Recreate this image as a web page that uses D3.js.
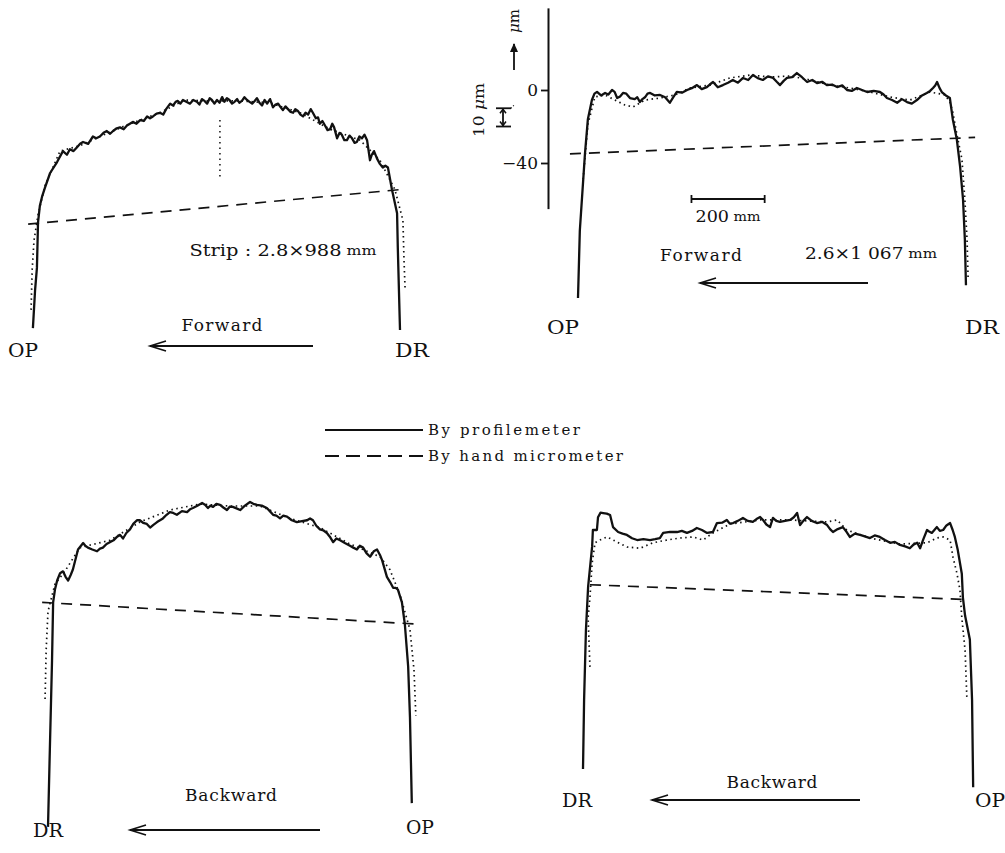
<!DOCTYPE html>
<html lang="en">
<head>
    <meta charset="UTF-8">
    <title>Strip profiles</title>
    <script src="https://d3js.org/d3.v7.min.js"></script>
    <style>
        body { margin: 0; background: #fff; }
        text { font-family: 'DejaVu Serif', 'Liberation Serif', serif; fill: #111; }
    </style>
</head>
<body>
<script>
    const width  = 1005;
    const height = 853;

    // px per mm across the strip, px per micrometre of thickness
    const KX = 0.366;
    const KY = 1.825;

    // ---- data: [position across strip (mm), thickness deviation (um)] ----
    // top left, 2.8 x 988 mm, forward
    const tlSolid = [[-3,-125],[3,-104],[8,-92],[11,-67],[16,-58],[22,-53],[30,-48],[44,-40],[63,-34],[79,-28],[90,-30],[98,-27],[108,-28],[117,-26],[126,-24],[134,-23],[148,-24],[161,-20],[170,-21],[180,-20],[190,-18],[199,-17],[208,-18.5],[216,-17],[226,-15.5],[235,-15],[245,-16],[254,-14],[262,-13],[270,-12],[280,-13],[290,-11],[300,-11.5],[309,-9],[317,-10],[325,-9],[335,-7.5],[344,-7],[353,-8],[361,-5],[372,-2],[380,-3],[387,-1],[393,-0.5],[400,-2],[407,0],[416,-1],[426,-2],[435,0],[445,-1],[452,-2.5],[459,0.5],[466,-0.5],[473,-2],[480,1],[486,0],[493,-2],[500,0],[507,-1.5],[514,1.6],[520,-1],[527,1],[534,0],[541,-2],[548,-1],[555,0.5],[561,-1.5],[568,-0.5],[575,1.5],[582,0],[589,-1],[596,-2],[603,-0.5],[609,1],[616,-1.5],[623,-3],[630,0],[637,-2],[645,0.5],[653,-4],[660,-2.5],[667,-2],[674,-4],[680,-5.5],[687,-3.5],[694,-5],[701,-6.5],[708,-7],[714,-5],[721,-6],[728,-8],[735,-9],[742,-7],[749,-8],[756,-5],[762,-7],[770,-10],[776,-9.5],[781,-13],[788,-11.5],[795,-14],[802,-16.5],[809,-16],[815,-13],[820,-15],[828,-21],[835,-18],[841,-19],[848,-22],[855,-22],[862,-19.5],[869,-21],[876,-23.5],[882,-23],[889,-20],[896,-21],[903,-19],[910,-22],[918,-33],[923,-30],[929,-28],[937,-32],[945,-35],[953,-37],[960,-36],[967,-37],[978,-49],[992,-62],[994,-81],[1000,-126]];
    const tlDotted = [[-8,-115],[-5,-93],[0,-77],[11,-63],[30,-47],[71,-28],[126,-25],[180,-20],[262,-13],[344,-7],[412,0],[478,-0.5],[563,-0.5],[645,-1.6],[727,-7],[809,-16],[891,-22],[945,-33],[986,-49],[1008,-66],[1011,-88],[1014,-104]];
    const tlCentre = [[508,-11],[508,-44]];
    const tlDashed = [[-16,-68],[1005,-49]];

    // top right, 2.6 x 1067 mm, forward
    const trSolid = [[0,-114],[5,-77],[19,-35],[27,-16],[38,-5.5],[45,-2],[52,-1],[63,-3],[74,-1.6],[83,-2.5],[93,0],[100,-1],[107,-4.4],[115,-3.5],[123,-1.6],[132,-2],[142,-4.4],[155,-5],[162,-4],[169,-6.6],[176,-5],[183,-4],[190,-2],[197,-1.6],[210,-3],[224,-2.7],[238,-4],[251,-7],[260,-4],[270,-1],[284,-1.5],[298,0],[311,1],[325,2.7],[338,0.5],[352,1.6],[360,3],[369,4.4],[382,1.5],[396,2.7],[410,4],[423,5.5],[437,4],[451,6.6],[465,5.5],[478,8.2],[491,6.5],[505,5.5],[519,7.5],[533,6.6],[543,4.5],[552,2.7],[562,5],[571,6.6],[585,7],[598,9.3],[612,7],[626,4.4],[640,5.5],[653,3.8],[667,4.5],[680,2.7],[694,3],[708,1.6],[722,2.5],[735,0],[748,-0.5],[762,1.1],[776,0],[790,-1.1],[808,-0.5],[825,-1.1],[835,-2.5],[844,-4.4],[858,-5.5],[872,-7],[885,-5],[899,-6.6],[912,-7.5],[926,-5.5],[940,-3],[953,-1.6],[962,-0.5],[970,1.1],[976,2.5],[981,4.4],[988,1],[994,-1.1],[1005,-3],[1016,-4.4],[1024,-16],[1035,-27],[1044,-42],[1052,-60],[1057,-82],[1060,-107]];
    const trDotted = [[14,-49],[27,-19],[46,-3.8],[74,-2.7],[101,-5.5],[128,-8.2],[150,-9.3],[183,-5.5],[224,-4.4],[265,-2.7],[306,1.1],[361,2.7],[415,6.6],[470,8.2],[525,7.1],[579,7.7],[634,5.5],[689,2.7],[743,1.1],[798,-1.1],[852,-3.8],[907,-5.5],[962,-1.1],[1003,-2.7],[1016,-6.6],[1024,-12],[1033,-22],[1049,-38],[1057,-60],[1063,-82],[1066,-104]];
    const trDashed = [[-22,-35],[1085,-26]];

    // bottom left, 2.8 x 988 mm, backward
    const blSolid = [[0,-178],[5,-136],[11,-87],[14,-55],[19,-48],[25,-43],[33,-39],[41,-38],[48,-41],[55,-43],[62,-40],[68,-37],[82,-26],[96,-22.5],[102,-24],[109,-25],[121,-26],[134,-27],[142,-25.5],[150,-25],[160,-23],[169,-22],[179,-21],[189,-19],[197,-18],[205,-20],[214,-17],[224,-15],[233,-12],[243,-10],[251,-10],[260,-11.5],[270,-12],[279,-14],[288,-12.5],[298,-11],[306,-10],[314,-9],[324,-7],[333,-5.5],[342,-6],[352,-7],[366,-5],[380,-5.5],[388,-4],[396,-3.3],[408,-2],[421,-0.5],[429,-1.5],[437,-3.3],[444,-2],[451,-2.7],[460,-1],[470,-1.6],[479,-3],[489,-4.4],[497,-2.5],[505,-2.7],[515,-3.5],[525,-4.4],[538,-2],[552,0],[561,-1],[571,-1.6],[584,-2],[598,-3.3],[606,-5],[615,-7],[624,-7.5],[634,-9],[643,-7.5],[653,-8],[666,-10],[680,-11],[694,-10.5],[708,-10],[716,-9],[724,-10],[733,-13],[743,-15],[752,-15.5],[762,-17],[770,-19],[779,-22],[788,-20],[798,-21],[811,-22.5],[825,-24],[834,-25],[844,-26],[852,-24],[861,-25],[870,-28],[880,-30],[890,-27],[899,-26],[907,-29],[913,-32],[926,-41],[935,-44],[943,-47],[950,-47],[956,-48],[967,-55],[975,-67],[984,-90],[989,-118],[994,-165]];
    const blDotted = [[-8,-108],[-5,-81],[0,-60],[19,-45],[46,-38],[87,-25],[169,-21],[251,-11],[333,-4.4],[415,-1.1],[497,-2.2],[579,-2.2],[661,-9],[743,-14],[825,-23],[907,-30],[934,-37],[962,-51],[989,-70],[1000,-92],[1005,-117]];
    const blDashed = [[-16,-55],[1016,-67]];

    // bottom right, 2.6 x 1067 mm, backward
    const brSolid = [[0,-131],[3,-93],[8,-55],[14,-31],[25,-9],[27,0],[38,0],[41,7],[48,9.5],[55,9.3],[65,9],[74,8.2],[82,1.6],[96,-1.1],[108,-2],[120,-2.7],[134,-4.5],[148,-5.5],[165,-5],[183,-5.5],[197,-5],[210,-4.4],[219,-1.6],[238,-1],[257,-1.1],[270,-0.5],[284,-1.6],[298,-0.5],[311,1.1],[325,0],[339,-1.6],[355,-1.1],[366,3.8],[380,4],[393,5.5],[401,3.5],[410,3.8],[423,5],[437,6.6],[450,5],[464,4.4],[474,6],[484,7.1],[492,5.5],[501,3],[511,1.6],[519,6.6],[528,5],[538,4.4],[552,5],[566,5.5],[576,7],[585,9.3],[593,2.7],[602,5],[612,7.1],[625,5],[639,3.8],[653,4.5],[667,2.7],[675,0.5],[683,-1.1],[696,0.5],[710,1.6],[720,-1],[729,-3.8],[743,-2],[757,-2.7],[770,-3.5],[784,-4.4],[797,-3],[811,-3.8],[825,-5.5],[839,-7],[852,-6.5],[866,-8.2],[880,-9],[893,-10],[903,-8],[913,-7],[921,-10],[930,-5],[940,0],[947,-1],[953,-1.6],[960,0],[967,1.6],[975,-0.5],[984,0],[993,2.5],[1003,3.8],[1010,0],[1016,-3.8],[1024,-11],[1035,-24],[1038,-37],[1044,-47],[1057,-60],[1063,-93],[1066,-141]];
    const brDotted = [[19,-75],[14,-48],[19,-37],[25,-18],[33,-7],[46,-5.5],[66,-3.8],[93,-6.6],[120,-9.3],[156,-10],[191,-7],[229,-5.5],[265,-4.4],[301,-3.8],[328,-5.5],[355,-1.6],[402,3.3],[484,5.5],[566,5.5],[667,4.4],[694,5.5],[721,0],[784,-4.4],[866,-7.7],[940,-7],[967,-4.4],[984,-3.8],[1003,-5.5],[1011,-15],[1022,-24],[1030,-33],[1035,-48],[1044,-66],[1049,-93]];
    const brDashed = [[19,-30],[1038,-38]];

    // axis of the top right panel
    const yTicks = [0, -40];
    const yTickLabels = ["0", "\u221240"];
    const scaleBarMm = 200;
    const scaleBarUm = 10;

    const legendItems = ["By profilemeter", "By hand micrometer"];

    const panels = [
        {ox: 34,  oy: 100, solid: tlSolid, dotted: tlDotted, dashed: tlDashed},
        {ox: 578, oy: 90,  solid: trSolid, dotted: trDotted, dashed: trDashed},
        {ox: 48,  oy: 502, solid: blSolid, dotted: blDotted, dashed: blDashed},
        {ox: 583, oy: 530, solid: brSolid, dotted: brDotted, dashed: brDashed}
    ];

    const svg = d3.select("body")
            .append("svg")
            .attr("width", width)
            .attr("height", height);

    panels.forEach(p => {
        p.x = d3.scaleLinear().domain([0, 1000]).range([p.ox, p.ox + 1000 * KX]);
        p.y = d3.scaleLinear().domain([0, -100]).range([p.oy, p.oy + 100 * KY]);
        const line = d3.line().x(d => p.x(d[0])).y(d => p.y(d[1]));
        p.line = line;
        const g = svg.append("g");
        g.append("path").datum(p.dotted).attr("d", line)
            .attr("fill", "none").attr("stroke", "#111")
            .attr("stroke-width", 1.7).attr("stroke-dasharray", "1.5,3.5");
        g.append("path").datum(p.dashed).attr("d", line)
            .attr("fill", "none").attr("stroke", "#111")
            .attr("stroke-width", 1.7).attr("stroke-dasharray", "11,8");
        g.append("path").datum(p.solid).attr("d", line)
            .attr("fill", "none").attr("stroke", "#111")
            .attr("stroke-width", 2.3).attr("stroke-linejoin", "round");
    });

    // dotted centre mark in the top left panel
    svg.append("path").datum(tlCentre).attr("d", panels[0].line)
        .attr("stroke", "#111").attr("stroke-width", 1.5)
        .attr("stroke-dasharray", "1.5,4");

    // y axis of the top right panel
    const tr = panels[1];
    const axisScale = d3.scaleLinear().domain([-65, 45]).range([tr.y(-65), tr.y(45)]);
    const yAxis = svg.append("g")
        .attr("transform", "translate(548,0)")
        .call(d3.axisLeft(axisScale)
            .tickValues(yTicks)
            .tickFormat((d, i) => yTickLabels[i])
            .tickSize(7)
            .tickSizeOuter(0));
    yAxis.select(".domain").attr("stroke", "#111").attr("stroke-width", 2);
    yAxis.selectAll(".tick line").attr("stroke", "#111").attr("stroke-width", 1.8);
    yAxis.selectAll(".tick text")
        .attr("font-family", "'DejaVu Serif', serif")
        .attr("font-size", 17).attr("fill", "#111");

    // 10 um bracket
    const bx = 503;
    const b1 = tr.y(-scaleBarUm), b2 = tr.y(-2 * scaleBarUm);
    svg.append("line").attr("x1", bx).attr("x2", bx).attr("y1", b1).attr("y2", b2)
        .attr("stroke", "#111").attr("stroke-width", 1.8);
    [b1, b2].forEach(y => {
        svg.append("line").attr("x1", 496).attr("x2", 511).attr("y1", y).attr("y2", y)
            .attr("stroke", "#111").attr("stroke-width", 1.8);
    });
    svg.append("path").attr("d", `M${bx-3},${b1+5}L${bx},${b1+1}L${bx+3},${b1+5}`).attr("fill", "none").attr("stroke", "#111").attr("stroke-width", 1.5);
    svg.append("path").attr("d", `M${bx-3},${b2-5}L${bx},${b2-1}L${bx+3},${b2-5}`).attr("fill", "none").attr("stroke", "#111").attr("stroke-width", 1.5);
    svg.append("line").attr("x1", 511).attr("x2", 514).attr("y1", b1).attr("y2", b1 - 3)
        .attr("stroke", "#111").attr("stroke-width", 1.2).attr("stroke-dasharray", "1,2");

    const rot1 = svg.append("text")
        .attr("transform", "translate(484,110) rotate(-90)")
        .attr("text-anchor", "middle").attr("font-size", 15)
        .attr("textLength", 54).attr("lengthAdjust", "spacingAndGlyphs");
    rot1.append("tspan").text("10 ");
    rot1.append("tspan").attr("font-style", "italic").text("\u03bc");
    rot1.append("tspan").text("m");

    // upward arrow and unit
    svg.append("line").attr("x1", 514).attr("x2", 514).attr("y1", 70).attr("y2", 44)
        .attr("stroke", "#111").attr("stroke-width", 1.8);
    svg.append("path").attr("d", "M510,52L514,43L518,52Z").attr("fill", "#111");
    const rot2 = svg.append("text")
        .attr("transform", "translate(519,21) rotate(-90)")
        .attr("text-anchor", "middle").attr("font-size", 15)
        .attr("textLength", 24).attr("lengthAdjust", "spacingAndGlyphs");
    rot2.append("tspan").attr("font-style", "italic").text("\u03bc");
    rot2.append("tspan").text("m");

    // 200 mm scale bar
    const sx1 = tr.x(310), sx2 = tr.x(310 + scaleBarMm);
    svg.append("line").attr("x1", sx1).attr("x2", sx2).attr("y1", 199).attr("y2", 199)
        .attr("stroke", "#111").attr("stroke-width", 2);
    [sx1, sx2].forEach(x => svg.append("line").attr("x1", x).attr("x2", x)
        .attr("y1", 195).attr("y2", 203).attr("stroke", "#111").attr("stroke-width", 1.8));

    // labels
    function label(txt, x, y, size, len, adj) {
        return svg.append("text").attr("x", x).attr("y", y)
            .attr("dominant-baseline", "central")
            .attr("text-anchor", "middle")
            .attr("font-size", size)
            .attr("textLength", len).attr("lengthAdjust", adj || "spacingAndGlyphs")
            .text(txt);
    }
    function strip(txt, x, y, len) {
        const t = svg.append("text").attr("x", x).attr("y", y)
            .attr("dominant-baseline", "central").attr("text-anchor", "middle")
            .attr("font-size", 16).attr("textLength", len).attr("lengthAdjust", "spacingAndGlyphs");
        t.append("tspan").text(txt);
        t.append("tspan").attr("font-size", 13).text(" mm");
    }
    function arrow(x1, x2, y) {
        svg.append("line").attr("x1", x1).attr("x2", x2).attr("y1", y).attr("y2", y)
            .attr("stroke", "#111").attr("stroke-width", 1.8);
        svg.append("path").attr("d", `M${x2+16},${y-5}L${x2},${y}L${x2+16},${y+5}`)
            .attr("fill", "none").attr("stroke", "#111").attr("stroke-width", 1.6);
    }

    label("OP", 23, 350, 19, 30);
    label("DR", 412, 350, 19, 34);
    label("Forward", 222, 325, 17, 81, "spacing");
    strip("Strip : 2.8\u00d7988", 283, 250, 187);
    arrow(313, 150, 346);

    label("OP", 563, 327, 19, 32);
    label("DR", 982, 327, 19, 34);
    label("Forward", 701, 255, 17, 82, "spacing");
    strip("2.6\u00d71 067", 871, 253, 132);
    arrow(868, 700, 283);
    strip("200", 728, 216, 65);

    label("DR", 48, 830, 19, 30);
    label("OP", 420, 827, 19, 28);
    label("Backward", 231, 795, 17, 92, "spacing");
    arrow(320, 130, 830);

    label("DR", 577, 800, 19, 30);
    label("OP", 990, 800, 19, 30);
    label("Backward", 772, 782, 17, 91, "spacing");
    arrow(860, 652, 800);

    // legend
    const legend = svg.append("g").attr("transform", "translate(325,430)");
    legend.selectAll("line")
        .data(legendItems)
        .enter().append("line")
        .attr("x1", 0).attr("x2", 98)
        .attr("y1", (d, i) => i * 26).attr("y2", (d, i) => i * 26)
        .attr("stroke", "#111").attr("stroke-width", 1.8)
        .attr("stroke-dasharray", (d, i) => i === 0 ? null : "14,7");
    legend.selectAll("text")
        .data(legendItems)
        .enter().append("text")
        .attr("x", 103).attr("y", (d, i) => i * 26)
        .attr("dominant-baseline", "central")
        .attr("font-size", 15)
        .attr("textLength", (d, i) => i === 0 ? 152 : 195)
        .attr("lengthAdjust", "spacing")
        .text(d => d);
</script>
</body>
</html>
